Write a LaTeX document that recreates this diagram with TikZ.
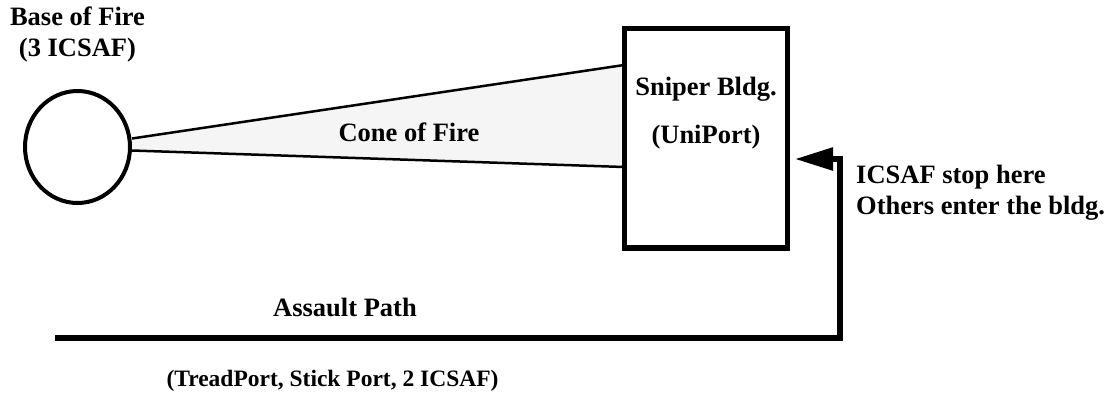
\documentclass[tikz,border=0pt]{standalone}
\usepackage{fontspec}
\setmainfont{Liberation Serif}
\usetikzlibrary{arrows.meta,shapes.geometric}
\begin{document}
\begin{tikzpicture}[x=1pt,y=-1pt,
  lbl/.style={font=\fontsize{26.5}{30}\selectfont\bfseries, inner sep=0pt},
  smalllbl/.style={font=\fontsize{23.5}{28}\selectfont\bfseries, inner sep=0pt},
  conefill/.style={fill=black!4},
  coneedge/.style={line width=2.5pt},
  heavy/.style={line width=5.5pt, line join=miter}]
\useasboundingbox (0,0) rectangle (1109,392);

% base of fire
\node[draw, ellipse, line width=4pt, minimum width=105pt, minimum height=112pt, inner sep=0pt] (base) at (77.5,147) {};

% cone of fire
\coordinate (c1) at (132,138.5);
\coordinate (c2) at (624,65);
\coordinate (c3) at (624,167);
\coordinate (c4) at (132,150.5);
\fill[conefill] (c1) -- (c2) -- (c3) -- (c4) -- cycle;
\draw[coneedge] (c1) -- (c2) (c4) -- (c3);

% sniper building
\node[draw, heavy, fill=white, minimum width=163pt, minimum height=219.5pt, inner sep=0pt] (bldg) at (706,138.25) {};

% assault path
\coordinate (start) at (55,338);
\coordinate (corner1) at (840,338);
\coordinate (corner2) at (840,159);
\coordinate (stop) at (795,159);
\draw[heavy, -{Triangle[length=38pt,width=22pt]}] (start) -- (corner1) -- (corner2) -- (stop);

% labels
\node[lbl, anchor=base] (basel1) at (77.5,25) {Base of Fire};
\node[lbl, anchor=base] (basel2) at (77.5,56.5) {(3 ICSAF)};
\node[lbl, anchor=base] (conel) at (409,141.5) {Cone of Fire};
\node[lbl, anchor=base] (bldgl1) at (706,95) {Sniper Bldg.};
\node[lbl, anchor=base] (bldgl2) at (706,143) {(UniPort)};
\node[lbl, anchor=base west] (stopl1) at (856,183) {ICSAF stop here};
\node[lbl, anchor=base west] (stopl2) at (856,214) {Others enter the bldg.};
\node[lbl, anchor=base] (pathl1) at (345,316.5) {Assault Path};
\node[smalllbl, anchor=base] (pathl2) at (332.5,386.5) {(TreadPort, Stick Port, 2 ICSAF)};
\end{tikzpicture}
\end{document}
